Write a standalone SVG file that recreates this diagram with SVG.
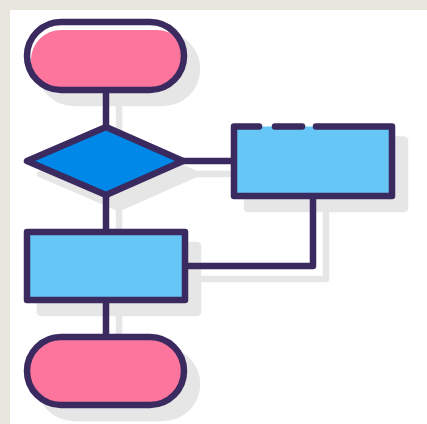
<svg xmlns="http://www.w3.org/2000/svg" width="427" height="424" viewBox="0 0 427 424">
  <defs>
    <style>
      .ln{fill:none;stroke:#3a2a5f;stroke-width:6.5;stroke-linejoin:round;stroke-linecap:round}
      .sh{fill:#e6e6e6;stroke:#e6e6e6;stroke-width:6.5;stroke-linejoin:round}
      .shl{fill:none;stroke:#e6e6e6;stroke-width:6.5;stroke-linejoin:round}
      .pink{fill:#fc759d}
      .lblue{fill:#66c6f5}
      .dblue{fill:#0088e8}
    </style>
    <clipPath id="topClip"><rect x="27" y="22" width="157" height="68" rx="34"/></clipPath>
  </defs>
  <rect x="0" y="0" width="427" height="424" fill="#e9e7dd"/>
  <rect x="10" y="10" width="417" height="414" fill="#ffffff"/>

  <g id="shadows" transform="translate(13,13)">
    <rect class="sh" x="27" y="22" width="157" height="68" rx="34"/>
    <polygon class="sh" points="27,161 106,127 183,161 106,195"/>
    <rect class="sh" x="234" y="126.5" width="158" height="69.5" rx="1"/>
    <rect class="sh" x="27" y="232" width="158" height="68" rx="1"/>
    <rect class="sh" x="27" y="337" width="157" height="68" rx="34"/>
    <path class="shl" d="M106,90 V127 M106,195 V232 M106,300 V337 M183,161 H234 M313,196 V266 H185"/>
  </g>

  <g id="connectors">
    <path class="ln" d="M106,90 V127"/>
    <path class="ln" d="M106,195 V232"/>
    <path class="ln" d="M106,300 V337"/>
    <path class="ln" d="M183,161 H234"/>
    <path class="ln" d="M313,196 V266 H185"/>
  </g>

  <g id="start">
    <rect x="27" y="22" width="157" height="68" rx="34" fill="#ffffff"/>
    <rect class="pink" clip-path="url(#topClip)" x="31" y="30" width="156" height="64" rx="30"/>
    <rect class="ln" x="27" y="22" width="157" height="68" rx="34"/>
  </g>

  <g id="decision">
    <polygon class="dblue" points="27,161 106,127 183,161 106,195"/>
    <polygon class="ln" points="27,161 106,127 183,161 106,195"/>
  </g>

  <g id="process-right">
    <rect class="lblue" x="234" y="126.5" width="158" height="69.5"/>
    <path class="ln" d="M259,126.5 H234 V196 H392 V126.5 H316"/>
    <path class="ln" d="M275,126.5 H302"/>
  </g>

  <g id="process-left">
    <rect class="lblue" x="27" y="232" width="158" height="68"/>
    <rect class="ln" x="27" y="232" width="158" height="68"/>
  </g>

  <g id="end">
    <rect class="pink" x="27" y="337" width="157" height="68" rx="34"/>
    <rect class="ln" x="27" y="337" width="157" height="68" rx="34"/>
  </g>
</svg>
